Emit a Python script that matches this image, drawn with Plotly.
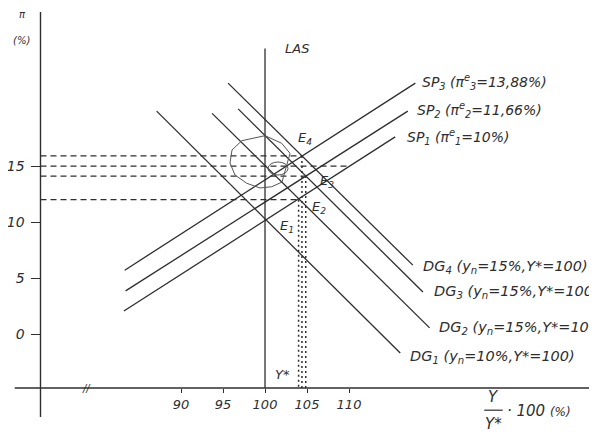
import plotly.graph_objects as go

# ---- data ----
# supply curves SP (upward) : [start, end]
sp_x = [[83.2, 115.5], [83.4, 117.0], [83.3, 117.9]]
sp_y = [[2.05, 17.6], [3.85, 19.9], [5.7, 22.4]]
sp_labels = ["SP<sub>1</sub> (π<sup>e</sup><sub>1</sub>=10%)",
             "SP<sub>2</sub> (π<sup>e</sup><sub>2</sub>=11,66%)",
             "SP<sub>3</sub> (π<sup>e</sup><sub>3</sub>=13,88%)"]

# demand curves DG (downward)
dg_x = [[87.1, 116.1], [93.7, 119.6], [96.8, 118.8], [95.6, 117.6]]
dg_y = [[19.9, -1.7], [19.7, 0.55], [20.1, 3.75], [22.4, 6.15]]
dg_labels = ["DG<sub>1</sub> (y<sub>n</sub>=10%,Y*=100)",
             "DG<sub>2</sub> (y<sub>n</sub>=15%,Y*=100)",
             "DG<sub>3</sub> (y<sub>n</sub>=15%,Y*=100)",
             "DG<sub>4</sub> (y<sub>n</sub>=15%,Y*=100)"]

# long-run supply
las_x = [100, 100]
las_y = [-4.82, 25.5]

# equilibria
e_names = ["E<sub>1</sub>", "E<sub>2</sub>", "E<sub>3</sub>", "E<sub>4</sub>"]
e_x = [100, 104.0, 104.85, 104.4]
e_y = [10, 12.0, 14.1, 15.9]

# dashed guides to the pi axis
dash_y = [15.9, 15.0, 14.1, 12.0]
dash_x_end = [104.4, 110.1, 104.85, 104.0]

# hand drawn pen loop on the scan
loop_x = [97.23, 100.0, 101.99, 102.98, 102.02, 100.8, 99.4, 97.82, 96.43, 95.83, 96.07, 97.23]
loop_y = [17.26, 17.71, 17.03, 16.13, 13.57, 13.15, 13.04, 13.46, 14.2, 15.27, 16.43, 17.26]

x_ticks = [90, 95, 100, 105, 110]
y_ticks = [0, 5, 10, 15]

# axes extents
x_axis_x = [70.2, 141.0]
x_axis_y = -4.82
y_axis_x = 73.27
y_axis_y = [-7.4, 28.75]

INK = "#2e2e2e"
FONT = "DejaVu Sans"

fig = go.Figure()

def seg(xs, ys, dash=None, width=1.3, color=INK):
    fig.add_trace(go.Scatter(x=xs, y=ys, mode="lines", hoverinfo="skip",
                             line=dict(color=color, width=width, dash=dash)))

# axes
seg(x_axis_x, [x_axis_y, x_axis_y], width=1.4)
seg([y_axis_x, y_axis_x], y_axis_y, width=1.4)

# dashed guides
for yv, xe in zip(dash_y, dash_x_end):
    seg([y_axis_x, xe], [yv, yv], dash="6px,4px", width=1.2)

# dotted drop lines from E2..E4
for xv, yv in zip(e_x[1:], e_y[1:]):
    seg([xv, xv], [yv, x_axis_y], dash="2px,3px", width=1.5)

# curves
seg(las_x, las_y)
for xs, ys in zip(sp_x, sp_y):
    seg(xs, ys)
for xs, ys in zip(dg_x, dg_y):
    seg(xs, ys)

# pen loop
seg(loop_x, loop_y, width=1.0, color="#555555")
fig.add_shape(type="circle", xref="x", yref="y", x0=100.36, x1=102.74, y0=14.2, y1=15.36,
              line=dict(color="#555555", width=1))

ann = []
def label(x, y, text, size=14, xanchor="left"):
    ann.append(dict(x=x, y=y, xref="x", yref="y", text=text, showarrow=False,
                    xanchor=xanchor, yanchor="middle",
                    font=dict(family=FONT, size=size, color=INK, style="italic")))

for t, lx, ly in zip(sp_labels, [116.67, 117.86, 118.45], [17.6, 20.0, 22.5]):
    label(lx, ly, t, 14)
for t, lx, ly in zip(dg_labels, [117.0, 120.5, 119.9, 118.6], [-2.05, 0.54, 3.75, 5.98]):
    label(lx, ly, t, 14.5)
for t, lx, ly in zip(e_names, [101.55, 105.36, 106.3, 103.69], [9.64, 11.3, 13.66, 17.5]):
    label(lx, ly, t, 13)

label(102.1, 25.5, "LAS", 13)
label(100.95, -3.57, "Y*", 13)
label(71.07, 28.5, "π", 10, "center")
label(70.95, 26.25, "(%)", 10, "center")
label(78.8, x_axis_y, "//", 10, "center")

# x-axis label: Y / Y* · 100 (%)
label(127.2, -5.6, "Y", 15, "center")
label(127.2, -8.0, "Y*", 15, "center")
label(128.6, -6.9, "· 100 <span style='font-size:12px'>(%)</span>", 15)
fig.add_shape(type="line", xref="x", yref="y", x0=126.1, x1=128.3, y0=-6.8, y1=-6.8,
              line=dict(color=INK, width=1.2))

# the page body adds an 8px offset, so the ranges are shifted to compensate
fig.update_layout(
    width=597, height=434,
    margin=dict(l=0, r=0, t=0, b=0),
    plot_bgcolor="white", paper_bgcolor="white",
    showlegend=False,
    annotations=ann,
    xaxis=dict(range=[69.40, 140.48], domain=[0, 1], anchor="free", position=1 - 380 / 434,
               showgrid=False, zeroline=False, showline=False,
               tickmode="array", tickvals=x_ticks, ticks="outside", ticklen=4,
               tickcolor=INK, automargin=False,
               tickfont=dict(family=FONT, size=13, color=INK, style="italic")),
    yaxis=dict(range=[-9.64, 29.11], domain=[0, 1], anchor="free", position=32.5 / 597,
               showgrid=False, zeroline=False, showline=False,
               tickmode="array", tickvals=y_ticks, ticks="outside", ticklen=10,
               tickcolor=INK, automargin=False, ticklabelstandoff=3,
               tickfont=dict(family=FONT, size=14, color=INK, style="italic")),
)

fig.write_html("out.html")
